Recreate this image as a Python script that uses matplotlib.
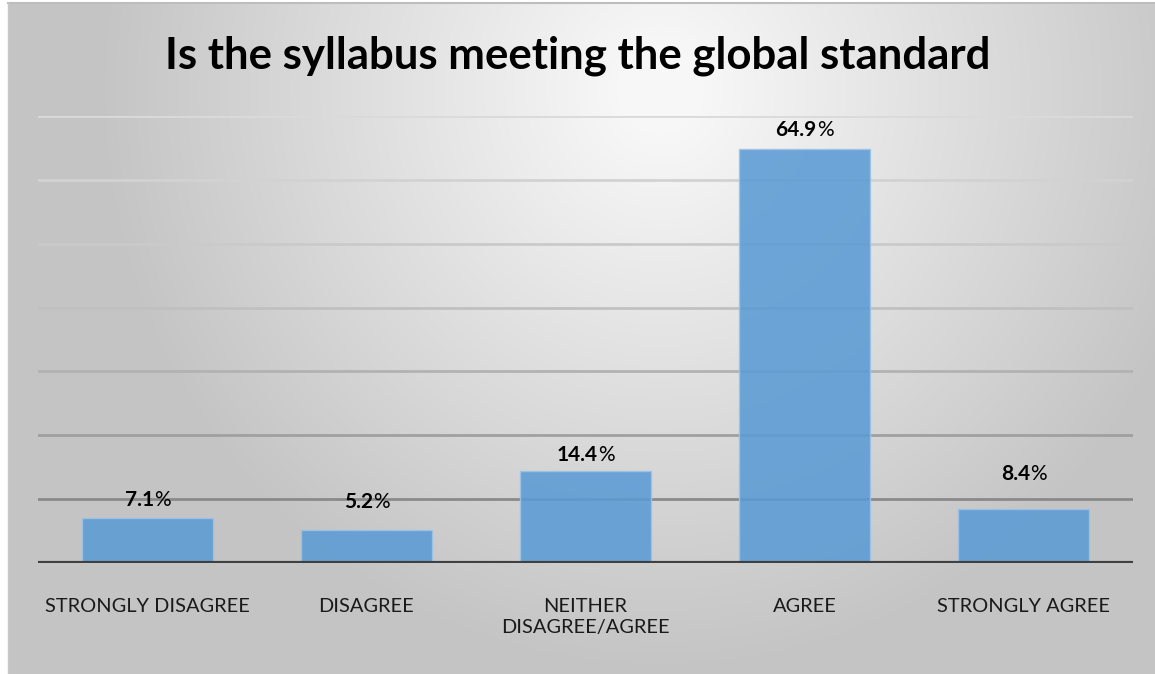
import numpy as np
import matplotlib
matplotlib.use('Agg')
import matplotlib.pyplot as plt

categories = ['STRONGLY DISAGREE', 'DISAGREE', 'NEITHER\nDISAGREE/AGREE', 'AGREE', 'STRONGLY AGREE']
values = [7.1, 5.2, 14.4, 64.9, 8.4]
grid_levels = [10, 20, 30, 40, 50, 60, 70]
title = 'Is the syllabus meeting the global standard'

# label gap above bar top (pixels), as placed in the original
label_gap = [18, 28, 16, 19, 35]
grid_colors = ['#8a8a8a', '#a0a0a0', '#b2b2b2', '#c0c0c0', '#cacaca', '#d2d2d2', '#dadada']

W, H = 1155, 674
plt.rcParams['font.family'] = ['Lato', 'DejaVu Sans']
fig = plt.figure(figsize=(W / 100, H / 100), dpi=100)

# background gradient of the chart area
bg = fig.add_axes([0, 0, 1, 1], zorder=-10)
yy, xx = np.mgrid[0:H, 0:W]
d = np.sqrt(((xx - 660) / 600.0) ** 2 + ((yy - 90) / 620.0) ** 2)
v = np.clip(0.985 - 0.23 * d, 0.77, 0.97)
img = np.dstack([v, v, v])
img[:, :8] = 1.0
img[:3, :] = 1.0
bg.imshow(img, extent=[0, W, H, 0], aspect='auto', interpolation='bilinear')
bg.plot([8, W], [3, 3], color='#bdbdbd', lw=1.5)
bg.plot([8, 8], [3, H], color='#c8c8c8', lw=1)
bg.set_xlim(0, W)
bg.set_ylim(H, 0)
bg.axis('off')

ax = fig.add_axes([38 / W, (H - 563) / H, 1095 / W, 447 / H])
ax.patch.set_alpha(0)
x = np.arange(len(categories))

for lvl, c in zip(grid_levels, grid_colors):
    ax.axhline(lvl, color=c, lw=2, zorder=1)

ax.bar(x, values, width=0.6, color='#5b9bd5', alpha=0.88, edgecolor='#9cc3e6',
       linewidth=1, zorder=2)
ax.axhline(0, color='#404040', lw=3, zorder=3)

ax.set_xlim(-0.5, 4.5)
ax.set_ylim(0, 70)
ax.set_yticks([])
ax.set_xticks(x)
ax.set_xticklabels(categories, fontsize=14.4, color='#1a1a1a', linespacing=1.3)
ax.tick_params(axis='x', length=0, pad=25)
for s in ax.spines.values():
    s.set_visible(False)

fig.text(0.5, 1 - 56 / H, title, ha='center', va='center', fontsize=31.5,
         fontweight='bold', color='black')

# value labels: bold number + regular percent sign
renderer = fig.canvas.get_renderer()
for xi, val, gap in zip(x, values, label_gap):
    px, py = ax.transData.transform((xi, val))
    py = py + gap
    t1 = fig.text(0, 0, f'{val:.1f}', fontsize=15, fontweight='bold',
                  ha='left', va='center', transform=None)
    t2 = fig.text(0, 0, '%', fontsize=15, ha='left', va='center', transform=None)
    w1 = t1.get_window_extent(renderer).width
    w2 = t2.get_window_extent(renderer).width
    x0 = px - (w1 + w2) / 2
    t1.set_position((x0, py))
    t2.set_position((x0 + w1, py))

fig.savefig('out.png', dpi=100)
